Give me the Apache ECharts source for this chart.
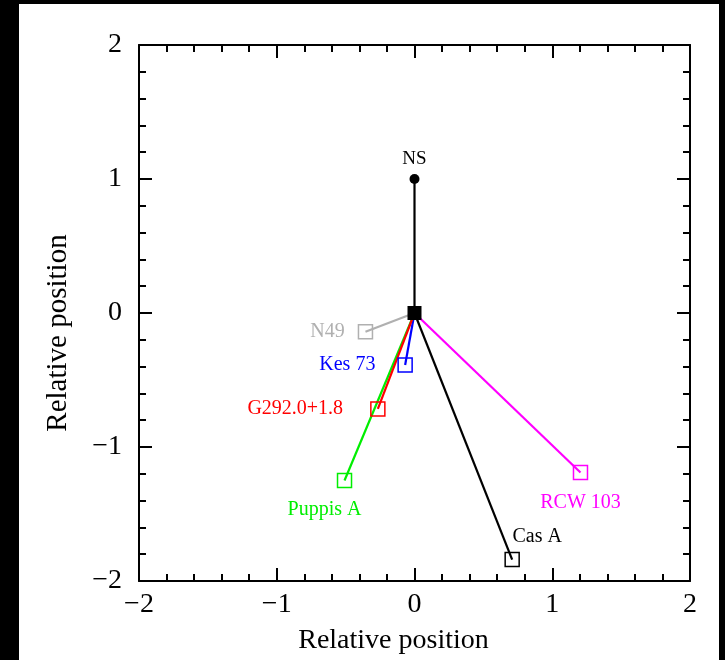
<!DOCTYPE html>
<html>
<head>
<meta charset="utf-8">
<script src="https://cdn.jsdelivr.net/npm/echarts@6/dist/echarts.min.js"></script>
<style>
  html, body { margin: 0; padding: 0; background: #000; }
  #chart { position: absolute; left: 19px; top: 4px; width: 700px; height: 656px; background: #fff; }
</style>
</head>
<body>
<div id="chart"></div>
<script>
// Remnant names, offsets relative to the neutron star frame
const remnants = ['N49', 'Kes 73', 'G292.0+1.8', 'Puppis A', 'RCW 103', 'Cas A'];
const xPos = [-0.356, -0.068, -0.266, -0.508, 1.205, 0.709];
const yPos = [-0.14, -0.388, -0.716, -1.25, -1.19, -1.84];
const colors = ['#b0b0b0', '#0000ff', '#ff0000', '#00ee00', '#ff00ff', '#000000'];
const labelPos = ['left', 'left', 'left', 'bottom', 'bottom', 'top'];
const labelOffsets = [[-8, 0], [-17, 0], [-22, 0], [-20, 6], [0, 8], [25, 0]];
// Neutron star reference point
const nsPoint = [0, 1];
const origin = [0, 0];

const FONT = '"Liberation Serif", "DejaVu Serif", serif';
const fmt = v => String(v).replace('-', '\u2212');

const chart = echarts.init(document.getElementById('chart'));

const axisCommon = {
  min: -2, max: 2, interval: 1,
  axisLine: { show: true, onZero: false, lineStyle: { color: '#000', width: 2 } },
  axisTick: { show: true, inside: true, length: 13, lineStyle: { color: '#000', width: 2 } },
  minorTick: { show: true, splitNumber: 5, length: 7, lineStyle: { color: '#000', width: 2 } },
  splitLine: { show: false },
  nameTextStyle: { fontFamily: FONT, fontSize: 28, color: '#000' }
};

const series = [];
// drawing order keeps the red segment visible beside the green one
const order = [0, 1, 3, 2, 4, 5];
order.forEach(i => {
  series.push({
    type: 'line',
    xAxisIndex: 0, yAxisIndex: 0,
    lineStyle: { color: colors[i], width: 2.2 },
    itemStyle: { color: 'rgba(255,255,255,0)', borderColor: colors[i], borderWidth: 1.5 },
    symbolSize: 14,
    z: 3,
    animation: false,
    data: [
      { value: origin, symbol: 'none' },
      {
        value: [xPos[i], yPos[i]], symbol: 'rect',
        label: {
          show: true, formatter: remnants[i], position: labelPos[i], offset: labelOffsets[i],
          color: colors[i], fontFamily: FONT, fontSize: 20
        }
      }
    ]
  });
});
// line to neutron star
series.push({
  type: 'line',
  lineStyle: { color: '#000', width: 2.2 },
  itemStyle: { color: '#000' },
  z: 4,
  animation: false,
  data: [
    { value: origin, symbol: 'none' },
    {
      value: nsPoint, symbol: 'circle', symbolSize: 10,
      label: { show: true, formatter: 'NS', position: 'top', distance: 5, color: '#000', fontFamily: FONT, fontSize: 19 }
    }
  ]
});
// central filled square
series.push({
  type: 'scatter',
  symbol: 'rect', symbolSize: 14,
  itemStyle: { color: '#000', opacity: 1 },
  z: 5,
  animation: false,
  data: [origin]
});

chart.setOption({
  animation: false,
  grid: { left: 120, top: 41, right: 29, bottom: 79 },
  xAxis: [
    Object.assign({}, axisCommon, {
      type: 'value', position: 'bottom',
      name: 'Relative position', nameLocation: 'middle', nameGap: 46,
      nameTextStyle: Object.assign({}, axisCommon.nameTextStyle, { padding: [0, 42, 0, 0] }),
      axisLabel: { show: true, margin: 10, fontFamily: FONT, fontSize: 28, color: '#000', formatter: fmt }
    }),
    Object.assign({}, axisCommon, {
      type: 'value', position: 'top',
      axisLabel: { show: false }
    })
  ],
  yAxis: [
    Object.assign({}, axisCommon, {
      type: 'value', position: 'left',
      name: 'Relative position', nameLocation: 'middle', nameGap: 66,
      nameTextStyle: Object.assign({}, axisCommon.nameTextStyle, { fontSize: 29, padding: [0, 40, 0, 0] }),
      axisLabel: { show: true, margin: 17, fontFamily: FONT, fontSize: 28, color: '#000', formatter: fmt }
    }),
    Object.assign({}, axisCommon, {
      type: 'value', position: 'right',
      axisLabel: { show: false }
    })
  ],
  series: series
});
</script>
</body>
</html>
